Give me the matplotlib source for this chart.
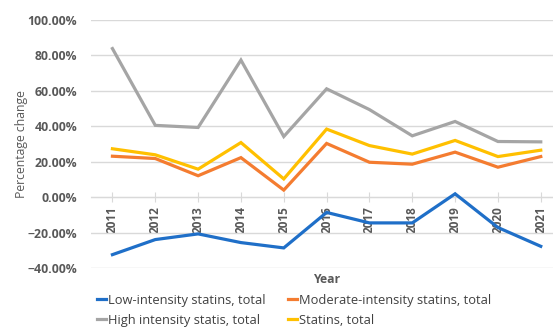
import matplotlib.pyplot as plt
import numpy as np
from matplotlib.ticker import PercentFormatter

years = ['2011', '2012', '2013', '2014', '2015', '2016',
         '2017', '2018', '2019', '2020', '2021']

# percentage change per year
low_intensity = [-32.3, -23.8, -20.6, -25.5, -28.5, -8.5, -14.4, -14.4, 2.0, -17.0, -27.6]
moderate_intensity = [23.2, 21.9, 12.2, 22.4, 4.1, 30.4, 19.8, 18.7, 25.5, 17.0, 23.0]
high_intensity = [83.9, 40.6, 39.4, 77.4, 34.3, 61.2, 49.5, 34.7, 42.8, 31.5, 31.3]
statins_total = [27.4, 24.0, 15.9, 30.9, 10.4, 38.5, 29.2, 24.4, 32.1, 23.0, 26.6]

series = [
    ('Low-intensity statins, total', low_intensity, '#1F6FC8'),
    ('Moderate-intensity statins, total', moderate_intensity, '#F47C30'),
    ('High intensity statis, total', high_intensity, '#A5A5A5'),
    ('Statins, total', statins_total, '#FFC000'),
]

plt.rcParams['font.family'] = ['Open Sans', 'DejaVu Sans']
text_col = '#595959'

fig = plt.figure(figsize=(5.53, 3.27), dpi=100)
ax = fig.add_axes([0.1646, 0.1795, 0.852, 0.7593])

x = np.arange(len(years))
lines = []
for name, vals, col in series:
    ln, = ax.plot(x, vals, color=col, lw=2.3, label=name, solid_joinstyle='miter')
    lines.append(ln)

ax.set_xlim(-0.5, len(years) - 0.5)
ax.set_ylim(-40, 100)
ax.set_yticks(np.arange(-40, 101, 20))
ax.yaxis.set_major_formatter(PercentFormatter(decimals=2))
ax.grid(axis='y', color='#D9D9D9', lw=1)
ax.set_axisbelow(True)

for s in ['top', 'right', 'left']:
    ax.spines[s].set_visible(False)
ax.spines['bottom'].set_position(('data', 0))
ax.spines['bottom'].set_color('#D9D9D9')
ax.spines['bottom'].set_zorder(0.5)

ax.set_xticks(x)
ax.set_xticklabels(years, rotation=90, fontsize=8.5, fontweight='bold', color=text_col)
ax.tick_params(axis='x', direction='inout', length=7, color='#D9D9D9', pad=3)
ax.tick_params(axis='y', length=0, pad=10, labelsize=8.8, labelcolor=text_col)
for lab in ax.get_yticklabels():
    lab.set_fontweight('bold')

ax.text(0.5, -0.018, 'Year', transform=ax.transAxes, ha='center', va='top',
        fontsize=8.8, fontweight='bold', color=text_col)
fig.text(0.038, 0.56, 'Percentage change', rotation=90, ha='center', va='center',
         fontsize=8.8, color=text_col)

# legend fills column by column, so order handles to get two rows of two
order = [0, 2, 1, 3]
fig.legend(handles=[lines[i] for i in order], loc='lower left',
           bbox_to_anchor=(0.155, -0.035), ncol=2,
           frameon=False, fontsize=9.3, handlelength=0.7, handletextpad=0.15,
           columnspacing=1.75, labelspacing=0.55, labelcolor='#404040')

fig.savefig('out.png', dpi=100)
